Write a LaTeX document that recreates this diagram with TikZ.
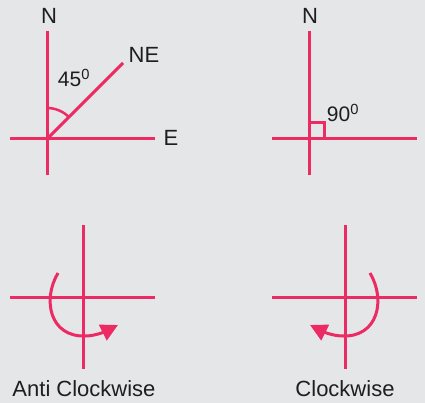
\documentclass[tikz,border=0pt]{standalone}
\usepackage{fontspec}
\setmainfont{Liberation Sans}
\usetikzlibrary{arrows.meta}
\definecolor{bg}{HTML}{E5E6E8}
\definecolor{pk}{HTML}{EC2A63}
\definecolor{tx}{HTML}{1E1E1E}
\begin{document}
\begin{tikzpicture}[x=1pt,y=-1pt,
  ln/.style={draw=pk,line width=3pt},
  lbl/.style={text=tx,font=\fontsize{22}{26}\selectfont,inner sep=0pt},
  deg/.style={text=tx,font=\fontsize{21}{24}\selectfont,inner sep=0pt},
  arr/.style={draw=pk,line width=3pt,-{Triangle[length=17pt,width=17pt]}}]
\fill[bg] (0,0) rectangle (425,403);
\useasboundingbox (0,0) rectangle (425,403);
% top-left
\coordinate (a0) at (47,139);
\coordinate (aN) at (47,31);
\coordinate (aS) at (47,175);
\coordinate (aW) at (10,139);
\coordinate (aE) at (155,139);
\coordinate (aNE) at (123,63);
\draw[ln] (aN) -- (aS);
\draw[ln] (aW) -- (aE);
\draw[ln] (a0) -- (aNE);
\draw[draw=pk,line width=2.5pt] (47,108) arc[start angle=-90,end angle=-45,radius=31];
\node[lbl] (nN1) at (49,16) {N};
\node[lbl] (nNE) at (144,55) {NE};
\node[lbl] (nE) at (171,138) {E};
\node[deg] (n45) at (74,78) {45\textsuperscript{0}};
% top-right
\coordinate (b0) at (309,139);
\coordinate (bN) at (309,31);
\coordinate (bS) at (309,175);
\coordinate (bW) at (272,139);
\coordinate (bE) at (417,139);
\draw[ln] (bN) -- (bS);
\draw[ln] (bW) -- (bE);
\draw[draw=pk,line width=3pt] (309,123) -- (324,123) -- (324,139);
\node[lbl] (nN2) at (310,16) {N};
\node[deg] (n90) at (343,113) {90\textsuperscript{0}};
% bottom-left
\coordinate (cN) at (83,225);
\coordinate (cS) at (83,369);
\coordinate (cW) at (10,297);
\coordinate (cE) at (155,297);
\draw[ln] (cN) -- (cS);
\draw[ln] (cW) -- (cE);
\coordinate (c1) at (58,273);
\coordinate (c2) at (85,336);
\coordinate (c3) at (118,325);
\draw[arr] (c1) .. controls (42,300) and (50,337) .. (c2) .. controls (96,336) and (106,331) .. (c3);
\node[lbl] (nAC) at (84,389) {Anti Clockwise};
% bottom-right
\coordinate (dN) at (345,225);
\coordinate (dS) at (345,369);
\coordinate (dW) at (272,297);
\coordinate (dE) at (417,297);
\draw[ln] (dN) -- (dS);
\draw[ln] (dW) -- (dE);
\coordinate (d1) at (370,273);
\coordinate (d2) at (343,336);
\coordinate (d3) at (310,325);
\draw[arr] (d1) .. controls (386,300) and (378,337) .. (d2) .. controls (332,336) and (322,331) .. (d3);
\node[lbl] (nC) at (345,389) {Clockwise};
\end{tikzpicture}
\end{document}
